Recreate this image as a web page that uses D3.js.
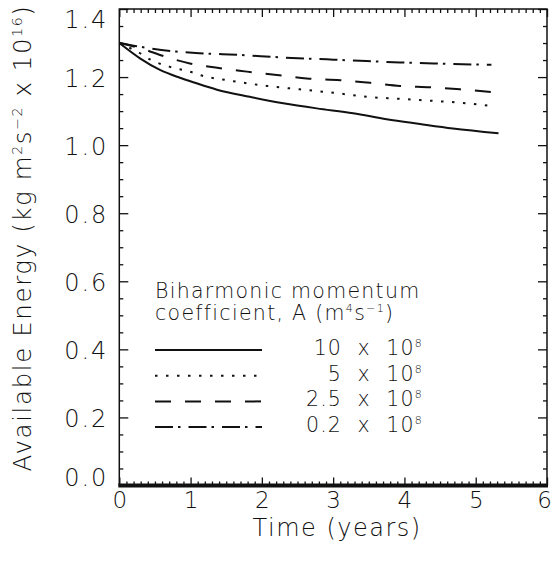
<!DOCTYPE html>
<html>
<head>
<meta charset="utf-8">
<script src="https://cdn.jsdelivr.net/npm/d3@7"></script>
<style>
  body { margin: 0; background: #fff; }
  text { font-family: "DejaVu Sans", sans-serif; font-weight: 200; fill: #111; white-space: pre; }
</style>
</head>
<body>
<svg width="552" height="575"></svg>
<script>
// time (years) and available energy (x 10^16)
var tSolid = [0, 0.29, 0.57, 0.85, 1.05, 1.37, 1.83, 2.30, 2.77, 3.28, 3.75, 4.22, 4.68, 5.32];
var eSolid = [1.30, 1.255, 1.221, 1.198, 1.184, 1.163, 1.142, 1.123, 1.108, 1.094, 1.076, 1.062, 1.049, 1.035];

var tDot = [0, 0.29, 0.43, 0.71, 0.99, 1.13, 1.60, 2.07, 2.53, 3.00, 3.47, 3.94, 4.41, 4.87, 5.22];
var eDot = [1.30, 1.270, 1.252, 1.230, 1.216, 1.206, 1.188, 1.174, 1.164, 1.154, 1.142, 1.136, 1.130, 1.123, 1.115];

var tDash = [0, 0.34, 0.57, 0.99, 1.27, 1.79, 2.21, 2.63, 3.10, 3.52, 3.94, 4.36, 4.78, 5.32];
var eDash = [1.30, 1.282, 1.265, 1.240, 1.230, 1.216, 1.206, 1.196, 1.191, 1.183, 1.174, 1.170, 1.164, 1.154];

var tDashDot = [0, 0.29, 0.80, 1.13, 1.69, 2.25, 2.91, 3.47, 3.94, 4.41, 5.22];
var eDashDot = [1.30, 1.289, 1.275, 1.270, 1.265, 1.258, 1.252, 1.247, 1.243, 1.240, 1.236];

var legendLabels = ["10", "5", "2.5", "0.2"];
var xTicks = [0, 1, 2, 3, 4, 5, 6];
var yTicks = [0, 0.2, 0.4, 0.6, 0.8, 1.0, 1.2, 1.4];

var dashes = ["none", "2.5,8.5", "16,14", "18,5,2.5,8"];

var series = [
  { t: tSolid, e: eSolid },
  { t: tDot, e: eDot },
  { t: tDash, e: eDash },
  { t: tDashDot, e: eDashDot }
];

var svg = d3.select("svg");
var x0 = 119.3, x1 = 547, y0 = 9, y1 = 485.5;

var x = d3.scaleLinear().domain([0, 6]).range([x0, x1]);
var y = d3.scaleLinear().domain([0, 1.4]).range([y1, y0]);

var xMinor = d3.range(0, 60.5).map(d => d / 10).filter(d => d % 1 !== 0);
var yMinor = d3.range(0, 28.5).map(d => d / 20).filter(d => Math.round(d * 20) % 4 !== 0);

function ticks(g, axis) {
  g.call(axis);
  g.select(".domain").remove();
  g.selectAll("line").attr("stroke", "#111").attr("stroke-width", 1.3);
}

// inward ticks on all four sides
[[d3.axisRight, x0], [d3.axisLeft, x1]].forEach(function (p) {
  svg.append("g").attr("transform", "translate(" + p[1] + ",0)")
    .call(ticks, p[0](y).tickValues(yMinor).tickSize(4).tickFormat(""));
  svg.append("g").attr("transform", "translate(" + p[1] + ",0)")
    .call(ticks, p[0](y).tickValues(yTicks).tickSize(9).tickFormat(""));
});
[[d3.axisBottom, y0], [d3.axisTop, y1]].forEach(function (p) {
  svg.append("g").attr("transform", "translate(0," + p[1] + ")")
    .call(ticks, p[0](x).tickValues(xMinor).tickSize(4).tickFormat(""));
  svg.append("g").attr("transform", "translate(0," + p[1] + ")")
    .call(ticks, p[0](x).tickValues(xTicks).tickSize(8).tickFormat(""));
});

// frame
svg.append("path")
  .attr("d", "M" + x0 + "," + y1 + "V" + y0 + "H" + x1 + "V" + y1)
  .attr("fill", "none").attr("stroke", "#111").attr("stroke-width", 1.5);
svg.append("line")
  .attr("x1", x0 - 1).attr("x2", x1 + 1).attr("y1", y1).attr("y2", y1)
  .attr("stroke", "#111").attr("stroke-width", 4);

// tick labels
var yl = svg.append("g").attr("transform", "translate(" + x0 + ",0)")
  .call(d3.axisLeft(y).tickValues(yTicks).tickSize(0).tickPadding(11).tickFormat(d3.format(".1f")));
yl.select(".domain").remove();
yl.selectAll("text").attr("font-size", 24).attr("letter-spacing", 2)
  .attr("dy", d => d === 1.4 ? "0.78em" : d === 0 ? "-0.02em" : "0.38em");

var xl = svg.append("g").attr("transform", "translate(0," + y1 + ")")
  .call(d3.axisBottom(x).tickValues(xTicks).tickSize(0).tickPadding(6.5).tickFormat(d3.format("d")));
xl.select(".domain").remove();
xl.selectAll("text").attr("font-size", 23).attr("dx", d => d === 6 ? -3 : 0);

svg.selectAll(".tick text").attr("font-family", null).attr("fill", null);

// axis titles
svg.append("text")
  .attr("x", (x0 + x1) / 2 + 4).attr("y", 536)
  .attr("text-anchor", "middle").attr("font-size", 24).attr("letter-spacing", 1.5)
  .text("Time (years)");

var yt = svg.append("text")
  .attr("transform", "translate(31,238) rotate(-90)")
  .attr("text-anchor", "middle").attr("font-size", 24.5).attr("letter-spacing", 1.6);
yt.append("tspan").text("Available Energy (kg m");
yt.append("tspan").attr("dy", -9).attr("font-size", 14).text("2");
yt.append("tspan").attr("dy", 9).text("s");
yt.append("tspan").attr("dy", -9).attr("font-size", 14).text("\u22122");
yt.append("tspan").attr("dy", 9).text(" x 10");
yt.append("tspan").attr("dy", -9).attr("font-size", 14).text("16");
yt.append("tspan").attr("dy", 9).text(")");

// curves
var line = d3.line()
  .x(d => x(d[0]))
  .y(d => y(d[1]))
  .curve(d3.curveMonotoneX);

svg.selectAll(".curve")
  .data(series)
  .enter()
  .append("path")
  .attr("class", "curve")
  .attr("d", s => line(s.t.map((t, i) => [t, s.e[i]])))
  .attr("fill", "none")
  .attr("stroke", "#111")
  .attr("stroke-width", 2)
  .attr("stroke-dasharray", (s, i) => dashes[i]);

// legend
var lg = svg.append("g");
lg.append("text").attr("x", 155).attr("y", 298).attr("font-size", 20.5).attr("letter-spacing", 1.3)
  .text("Biharmonic momentum");
var l2 = lg.append("text").attr("x", 155).attr("y", 320).attr("font-size", 20.5).attr("letter-spacing", 1.3);
l2.append("tspan").text("coefficient, A (m");
l2.append("tspan").attr("dy", -8).attr("font-size", 11).text("4");
l2.append("tspan").attr("dy", 8).text("s");
l2.append("tspan").attr("dy", -8).attr("font-size", 11).text("\u22121");
l2.append("tspan").attr("dy", 8).text(")");

var row = lg.selectAll(".row")
  .data(legendLabels)
  .enter()
  .append("g")
  .attr("class", "row")
  .attr("transform", (d, i) => "translate(0," + (350 + i * 25.7) + ")");

row.append("line")
  .attr("x1", 155).attr("x2", 262)
  .attr("stroke", "#111").attr("stroke-width", 2)
  .attr("stroke-dasharray", (d, i) => dashes[i]);

var rt = row.append("text")
  .attr("x", 423).attr("y", 5)
  .attr("text-anchor", "end").attr("font-size", 20.5).attr("letter-spacing", 1.2);
rt.append("tspan").text(d => d + "  x  10");
rt.append("tspan").attr("dy", -8).attr("font-size", 11).text("8");
</script>
</body>
</html>
